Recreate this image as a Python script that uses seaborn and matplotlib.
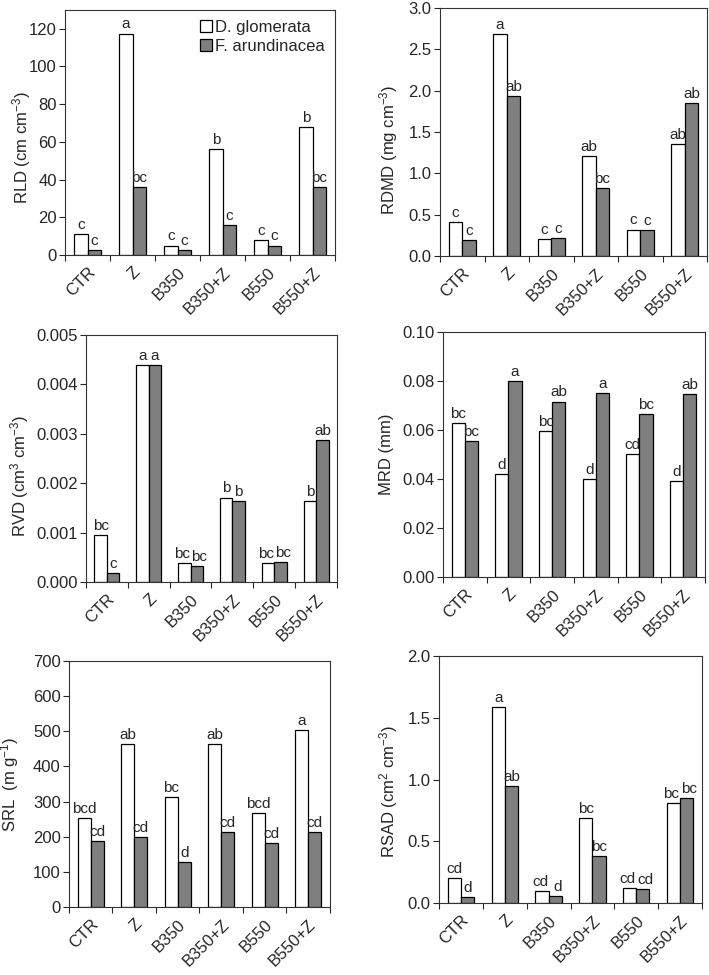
import numpy as np
import pandas as pd
import matplotlib
matplotlib.use('Agg')
import matplotlib.pyplot as plt
import seaborn as sns
from matplotlib.ticker import FormatStrFormatter, MultipleLocator, FixedLocator
from matplotlib.patches import Rectangle

# Treatments and species
treatments = ['CTR', 'Z', 'B350', 'B350+Z', 'B550', 'B550+Z']
species = ['D. glomerata', 'F. arundinacea']

# RLD (cm cm-3)
rld_dg = [11, 117.5, 5, 56, 8, 68]
rld_fa = [2.5, 36, 2.5, 16, 5, 36]
rld_dg_let = ['c', 'a', 'c', 'b', 'c', 'b']
rld_fa_let = ['c', 'bc', 'c', 'c', 'c', 'bc']

# RDMD (mg cm-3)
rdmd_dg = [0.41, 2.68, 0.21, 1.21, 0.32, 1.36]
rdmd_fa = [0.19, 1.93, 0.22, 0.82, 0.31, 1.85]
rdmd_dg_let = ['c', 'a', 'c', 'ab', 'c', 'ab']
rdmd_fa_let = ['c', 'ab', 'c', 'bc', 'c', 'ab']

# RVD (cm3 cm-3)
rvd_dg = [0.00095, 0.0044, 0.00038, 0.00171, 0.00038, 0.00164]
rvd_fa = [0.00018, 0.0044, 0.00033, 0.00164, 0.0004, 0.00287]
rvd_dg_let = ['bc', 'a', 'bc', 'b', 'bc', 'b']
rvd_fa_let = ['c', 'a', 'bc', 'b', 'bc', 'ab']

# MRD (mm)
mrd_dg = [0.063, 0.042, 0.0595, 0.040, 0.050, 0.039]
mrd_fa = [0.0556, 0.080, 0.0716, 0.075, 0.0665, 0.0745]
mrd_dg_let = ['bc', 'd', 'bc', 'd', 'cd', 'd']
mrd_fa_let = ['bc', 'a', 'ab', 'a', 'bc', 'ab']

# SRL (m g-1)
srl_dg = [253, 465, 312, 465, 267, 503]
srl_fa = [187, 200, 127, 214, 183, 214]
srl_dg_let = ['bcd', 'ab', 'bc', 'ab', 'bcd', 'a']
srl_fa_let = ['cd', 'cd', 'd', 'cd', 'cd', 'cd']

# RSAD (cm2 cm-3)
rsad_dg = [0.20, 1.59, 0.10, 0.69, 0.12, 0.81]
rsad_fa = [0.05, 0.95, 0.06, 0.38, 0.11, 0.85]
rsad_dg_let = ['cd', 'a', 'cd', 'bc', 'cd', 'bc']
rsad_fa_let = ['d', 'ab', 'd', 'bc', 'cd', 'bc']

sns.set_style('ticks')
plt.rcParams['font.family'] = ['Liberation Sans', 'DejaVu Sans']
plt.rcParams['mathtext.default'] = 'regular'
plt.rcParams['font.size'] = 12

colors = ['white', '#7f7f7f']
fs = 12

fig = plt.figure(figsize=(7.09, 9.75), dpi=100)

panels = [
    # values dg, fa, letters dg, fa, ylabel, ymax, step, fmt, axes rect, ylabel coords
    (rld_dg, rld_fa, rld_dg_let, rld_fa_let, 'RLD (cm cm$^{-3}$)', 130, 20, '%d',
     [0.0917, 0.7385, 0.381, 0.2513], (-0.119, 0.44)),
    (rdmd_dg, rdmd_fa, rdmd_dg_let, rdmd_fa_let, 'RDMD (mg cm$^{-3}$)', 3.0, 0.5, '%.1f',
     [0.6206, 0.7374, 0.3766, 0.2544], (-0.150, 0.43)),
    (rvd_dg, rvd_fa, rvd_dg_let, rvd_fa_let, 'RVD (cm$^{3}$ cm$^{-3}$)', 0.005, 0.001, '%.3f',
     [0.1213, 0.4031, 0.354, 0.2533], (-0.219, 0.43)),
    (mrd_dg, mrd_fa, mrd_dg_let, mrd_fa_let, 'MRD (mm)', 0.10, 0.02, '%.2f',
     [0.6248, 0.4082, 0.3695, 0.2513], (-0.187, 0.5)),
    (srl_dg, srl_fa, srl_dg_let, srl_fa_let, 'SRL  (m g$^{-1}$)', 700, 100, '%d',
     [0.0973, 0.0697, 0.368, 0.2523], (-0.184, 0.5)),
    (rsad_dg, rsad_fa, rsad_dg_let, rsad_fa_let, 'RSAD (cm$^{2}$ cm$^{-3}$)', 2.0, 0.5, '%.1f',
     [0.6192, 0.0738, 0.371, 0.2533], (-0.148, 0.45)),
]

for i, (dg, fa, dg_let, fa_let, ylab, ymax, step, fmt, rect, lab_xy) in enumerate(panels):
    ax = fig.add_axes(rect)
    df = pd.DataFrame({
        'Treatment': treatments * 2,
        'Species': [species[0]] * 6 + [species[1]] * 6,
        'Value': list(dg) + list(fa),
    })
    sns.barplot(data=df, x='Treatment', y='Value', hue='Species', order=treatments,
                hue_order=species, palette=colors, edgecolor='black', linewidth=0.9,
                width=0.6, errorbar=None, ax=ax, legend=False)

    # significance letters; nudge apart two-letter labels that sit side by side
    for k, (cont, lets) in enumerate(zip(ax.containers, [dg_let, fa_let])):
        for j, (bar, let) in enumerate(zip(cont, lets)):
            dx = 0
            close = abs(dg[j] - fa[j]) < 0.06 * ymax
            if close and (len(dg_let[j]) > 1 or len(fa_let[j]) > 1):
                dx = -1.5 if k == 0 else 1.5
            ax.annotate(let, (bar.get_x() + bar.get_width() / 2, bar.get_height()),
                        xytext=(dx, 1.5), textcoords='offset points',
                        ha='center', va='bottom', fontsize=11)

    ax.set_xlim(-0.5, 5.5)
    ax.set_ylim(0, ymax)
    ax.yaxis.set_major_locator(MultipleLocator(step))
    ax.yaxis.set_major_formatter(FormatStrFormatter(fmt))
    if i == 0:
        ax.set_yticks(np.arange(0, 121, 20))
    ax.set_xlabel('')
    ax.set_ylabel(ylab, fontsize=fs)
    ax.yaxis.set_label_coords(*lab_xy)
    ax.xaxis.set_minor_locator(FixedLocator(np.arange(-0.5, 6, 1)))
    ax.tick_params(axis='x', which='major', length=0, pad=7)
    ax.tick_params(axis='x', which='minor', length=4, width=0.8, direction='out')
    ax.tick_params(axis='y', length=4, width=0.8, direction='out', labelsize=fs, pad=2)
    ax.set_xticks(range(6))
    ax.set_xticklabels(treatments, rotation=45, ha='right', rotation_mode='anchor',
                       fontsize=fs)
    for sp in ax.spines.values():
        sp.set_visible(True)
        sp.set_linewidth(0.8)
        sp.set_color('#333333')

    if i == 0:
        handles = [Rectangle((0, 0), 1, 1, facecolor=c, edgecolor='black', linewidth=0.9)
                   for c in colors]
        ax.legend(handles, species, loc='upper right', frameon=False, fontsize=fs,
                  handlelength=0.7, handleheight=0.7, handletextpad=0.2,
                  labelspacing=0.25, borderaxespad=0.2)

fig.savefig('out.png', dpi=100)
